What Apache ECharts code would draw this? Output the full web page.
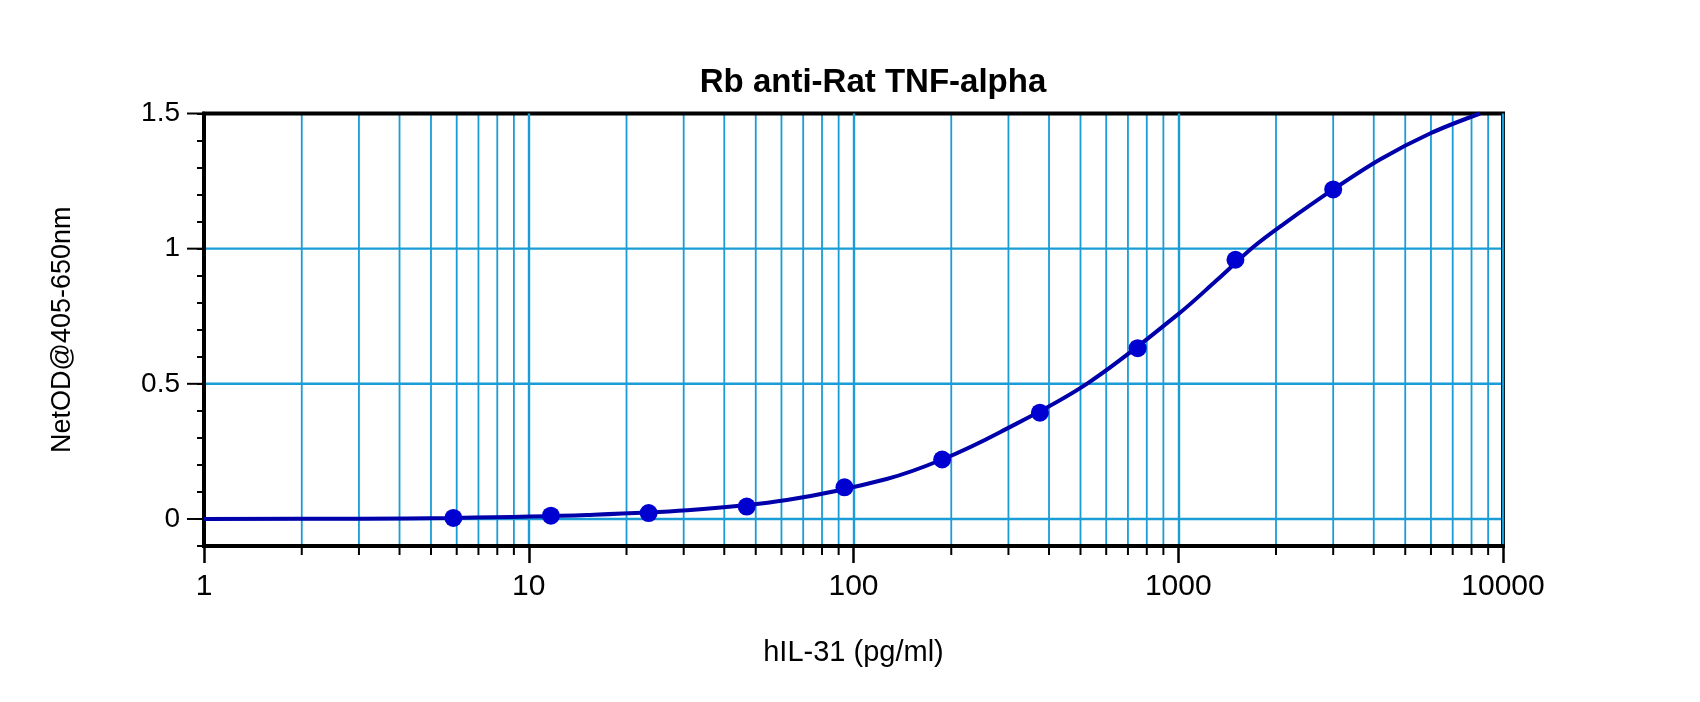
<!DOCTYPE html>
<html>
<head>
<meta charset="utf-8">
<script src="https://cdn.jsdelivr.net/npm/echarts@6/dist/echarts.min.js"></script>
<style>
  html, body { margin: 0; padding: 0; background: #fff; }
  #chart { width: 1700px; height: 702px; }
</style>
</head>
<body>
<div id="chart"></div>
<script>
  'use strict'

  // standards (pg/ml) and measured OD
  var concentrations = [5.86, 11.7, 23.4, 46.9, 93.8, 187.5, 375, 750, 1500, 3000];
  var netOD = [0.004, 0.012, 0.022, 0.046, 0.117, 0.220, 0.393, 0.632, 0.959, 1.219];

  // fitted curve
  var curveX = [1, 3, 5.86, 15.1, 30.7, 62.3, 126.5, 187.5, 282.6, 523, 989, 1313, 1702, 2105, 3000, 4180, 5960, 8500];
  var curveY = [0, 0.001, 0.004, 0.015, 0.032, 0.070, 0.148, 0.220, 0.321, 0.50, 0.753, 0.883, 1.006, 1.09, 1.219, 1.33, 1.426, 1.50];

  // axis marks
  var xMinor = [2, 3, 4, 5, 6, 7, 8, 9, 20, 30, 40, 50, 60, 70, 80, 90,
                200, 300, 400, 500, 600, 700, 800, 900, 2000, 3000, 4000, 5000, 6000, 7000, 8000, 9000];
  var yMajor = [0, 0.5, 1, 1.5];

  var gridBlue = '#1a9cd6';
  var chart = echarts.init(document.getElementById('chart'));

  var option = {
    animation: false,
    backgroundColor: '#fff',
    title: {
      text: 'Rb anti-Rat TNF-alpha',
      left: 868,
      top: 61,
      textAlign: 'center',
      textStyle: { fontFamily: 'Liberation Sans', fontSize: 33, fontWeight: 'bold', color: '#000' }
    },
    grid: {
      left: 204, right: 197, top: 113.5, bottom: 156,
      show: true, borderColor: '#000', borderWidth: 4
    },
    xAxis: {
      type: 'log',
      logBase: 10,
      min: 1,
      max: 10000,
      splitNumber: 4,
      name: 'hIL-31 (pg/ml)',
      nameLocation: 'middle',
      nameGap: 92,
      nameTextStyle: { fontFamily: 'Liberation Sans', fontSize: 29, color: '#000' },
      axisLine: { onZero: false, lineStyle: { color: '#000', width: 4 } },
      axisTick: { length: 17, lineStyle: { color: '#000', width: 2.5 } },
      axisLabel: {
        fontFamily: 'Liberation Sans', fontSize: 30, color: '#000', margin: 26,
        formatter: function (v) { return String(v); }
      },
      splitLine: { show: true, lineStyle: { color: gridBlue, width: 2.4 } }
    },
    yAxis: {
      type: 'value',
      min: -0.1,
      max: 1.5,
      interval: 0.1,
      name: 'NetOD@405-650nm',
      nameLocation: 'middle',
      nameRotate: 90,
      nameGap: 128,
      nameTextStyle: { fontFamily: 'Liberation Sans', fontSize: 27, color: '#000' },
      axisLine: { onZero: false, lineStyle: { color: '#000', width: 4 } },
      axisTick: { length: 7, lineStyle: { color: '#000', width: 2 } },
      axisLabel: {
        fontFamily: 'Liberation Sans', fontSize: 28, color: '#000', margin: 24,
        formatter: function (v) {
          var h = v * 2;
          if (Math.abs(h - Math.round(h)) > 1e-6) return '';
          return String(Math.round(h) / 2);
        }
      },
      splitLine: { show: false }
    },
    series: [
      {
        // minor vertical grid lines and their short ticks
        type: 'custom',
        z: -1,
        silent: true,
        data: xMinor.map(function (v) { return [v, 0]; }),
        renderItem: function (params, api) {
          var v = api.value(0);
          var top = api.coord([v, 1.5]);
          var bot = api.coord([v, -0.1]);
          return {
            type: 'group',
            children: [
              { type: 'line', shape: { x1: bot[0], y1: bot[1], x2: top[0], y2: top[1] },
                style: { stroke: gridBlue, lineWidth: 1.8 } },
              { type: 'line', shape: { x1: bot[0], y1: bot[1], x2: bot[0], y2: bot[1] + 9 },
                style: { stroke: '#000', lineWidth: 2 } }
            ]
          };
        }
      },
      {
        // horizontal grid lines and long ticks at labelled values
        type: 'custom',
        z: -1,
        silent: true,
        data: yMajor.map(function (v) { return [1, v]; }),
        renderItem: function (params, api) {
          var v = api.value(1);
          var l = api.coord([1, v]);
          var r = api.coord([10000, v]);
          var kids = [
            { type: 'line', shape: { x1: l[0] - 17, y1: l[1], x2: l[0], y2: l[1] },
              style: { stroke: '#000', lineWidth: 2 } }
          ];
          if (v < 1.5) {
            kids.push({ type: 'line', shape: { x1: l[0], y1: l[1], x2: r[0], y2: r[1] },
              style: { stroke: gridBlue, lineWidth: 2.4 } });
          }
          return { type: 'group', children: kids };
        }
      },
      {
        name: 'fit',
        type: 'line',
        z: 3,
        smooth: 0.35,
        showSymbol: false,
        data: curveX.map(function (x, i) { return [x, curveY[i]]; }),
        lineStyle: { color: '#0000aa', width: 4 }
      },
      {
        name: 'standards',
        type: 'scatter',
        z: 4,
        symbolSize: 18,
        data: concentrations.map(function (x, i) { return [x, netOD[i]]; }),
        itemStyle: { color: '#0000d0', opacity: 1 }
      }
    ]
  };

  chart.setOption(option);
</script>
</body>
</html>
